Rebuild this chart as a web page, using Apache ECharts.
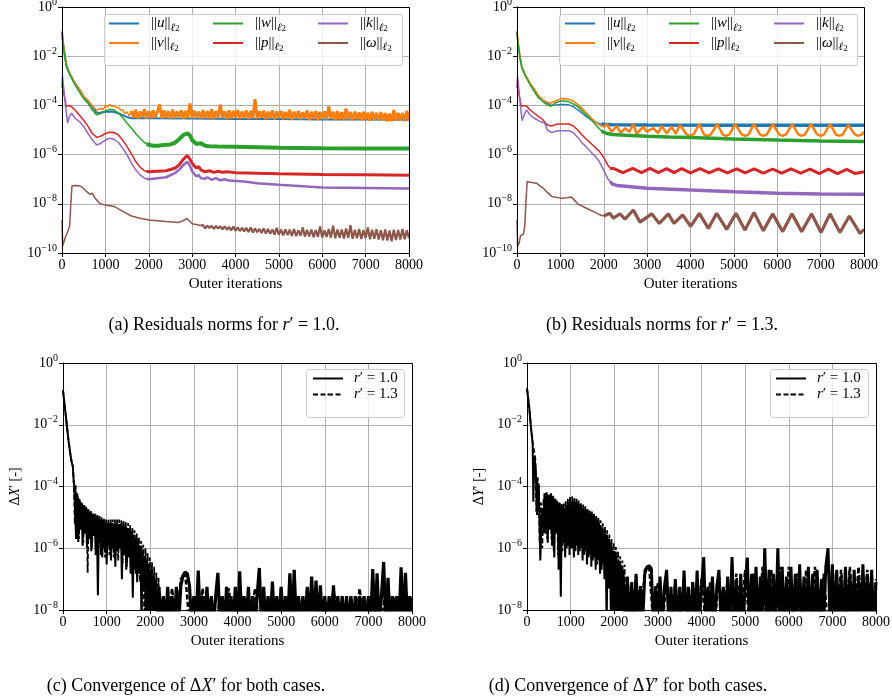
<!DOCTYPE html>
<html>
<head>
<meta charset="utf-8">
<script src="https://cdn.jsdelivr.net/npm/echarts@6/dist/echarts.min.js"></script>
<style>html,body{margin:0;padding:0;background:#fff;} #main{width:892px;height:700px;}</style>
</head>
<body>
<div id="main"></div>
<script>
/* ============================= data ============================= */
// (a) residual norms, r' = 1.0   -- [iteration, value]
var aU = [[0,1.0e-1],[20,4.0e-2],[70,9.3e-3],[110,3.7e-3],[150,2.5e-3],[200,1.6e-3],[300,7.8e-4],[400,4.5e-4],[500,2.2e-4],[600,1.5e-4],[700,8.9e-5],[800,5.0e-5],[900,5.2e-5],[1000,5.5e-5],[1100,5.6e-5],[1200,5.4e-5],[1300,4.8e-5],[1400,4.0e-5],[1500,3.4e-5],[1600,3.0e-5],[2000,3.0e-5],[3000,2.9e-5],[4000,2.8e-5],[5000,2.8e-5],[6000,2.7e-5],[7000,2.7e-5],[8000,2.6e-5]];
var aV = [[0,1.0e-1],[20,4.2e-2],[70,9.5e-3],[110,3.8e-3],[150,2.6e-3],[200,1.7e-3],[300,8.0e-4],[400,4.6e-4],[500,2.3e-4],[600,1.6e-4],[700,9.5e-5],[800,6.5e-5],[850,7.0e-5],[900,7.5e-5],[950,6.8e-5],[1000,1.0e-4],[1050,8.5e-5],[1100,1.1e-4],[1150,9.0e-5],[1200,1.0e-4],[1250,8.0e-5],[1300,8.5e-5],[1350,6.5e-5],[1400,6.5e-5],[1450,4.6e-5],[1500,5.5e-5],[1550,3.8e-5],[1600,6.0e-5]];
// ||v|| noise band, one value every 50 iterations from 1600
var aVNoise = [
  6.0e-5,3.2e-5,6.6e-5,3.0e-5,5.6e-5,3.4e-5,7.0e-5,2.9e-5,5.8e-5,3.1e-5,
  6.4e-5,3.3e-5,5.5e-5,1.1e-4,3.0e-5,6.2e-5,3.2e-5,5.9e-5,2.8e-5,6.8e-5,
  3.1e-5,5.7e-5,3.4e-5,6.3e-5,2.9e-5,6.0e-5,3.2e-5,1.2e-4,3.0e-5,6.1e-5,
  3.3e-5,5.6e-5,2.8e-5,6.5e-5,3.1e-5,5.8e-5,3.0e-5,6.9e-5,2.9e-5,6.0e-5,
  3.2e-5,1.1e-4,3.1e-5,5.7e-5,2.8e-5,6.3e-5,3.0e-5,5.9e-5,3.3e-5,6.4e-5,
  2.9e-5,5.6e-5,3.1e-5,6.2e-5,2.8e-5,6.0e-5,3.0e-5,1.8e-4,2.9e-5,5.8e-5,
  3.2e-5,6.1e-5,2.8e-5,5.5e-5,3.0e-5,6.3e-5,2.7e-5,5.7e-5,3.1e-5,6.0e-5,
  2.8e-5,5.4e-5,3.0e-5,6.6e-5,2.7e-5,5.6e-5,2.9e-5,5.9e-5,2.7e-5,5.3e-5,
  3.0e-5,6.2e-5,2.6e-5,5.5e-5,2.9e-5,5.8e-5,2.6e-5,5.4e-5,2.8e-5,5.7e-5,
  2.7e-5,9.0e-5,2.9e-5,5.5e-5,2.6e-5,5.9e-5,2.8e-5,5.3e-5,2.6e-5,7.5e-5,
  2.7e-5,5.4e-5,2.5e-5,5.6e-5,2.8e-5,5.2e-5,2.5e-5,5.5e-5,2.7e-5,5.1e-5,
  2.4e-5,5.4e-5,2.6e-5,5.0e-5,2.4e-5,5.3e-5,2.5e-5,4.8e-5,2.3e-5,4.6e-5,
  2.3e-5,6.5e-5,2.4e-5,5.0e-5,2.5e-5,4.9e-5,2.3e-5,6.0e-5,2.6e-5];
var aW = [[0,1.0e-1],[20,3.5e-2],[70,8.0e-3],[110,3.4e-3],[150,2.3e-3],[200,1.5e-3],[300,7.0e-4],[400,3.5e-4],[500,1.9e-4],[600,1.2e-4],[700,6.5e-5],[800,4.1e-5],[900,4.8e-5],[1000,6.0e-5],[1100,6.9e-5],[1200,6.5e-5],[1300,4.8e-5],[1400,3.2e-5],[1500,1.9e-5],[1600,1.2e-5],[1700,7.2e-6],[1800,4.6e-6],[1900,3.1e-6],[2000,2.5e-6]];
var aWTail = [[1950,2.7e-6],[2000,2.5e-6],[2100,2.3e-6],[2200,2.3e-6],[2300,2.4e-6],[2400,2.5e-6],[2500,2.6e-6],[2600,3.0e-6],[2700,4.2e-6],[2800,6.3e-6],[2900,7.2e-6],[2950,6.0e-6],[3000,3.9e-6],[3100,2.7e-6],[3200,2.9e-6],[3300,2.3e-6],[3400,2.2e-6],[3600,2.15e-6],[4000,2.1e-6],[4500,2.0e-6],[5000,1.9e-6],[5500,1.85e-6],[6000,1.8e-6],[7000,1.75e-6],[8000,1.75e-6]];
var aP = [[0,5e-4],[15,7e-4],[50,2.5e-4],[100,9.3e-5],[140,8.0e-5],[170,1.0e-4],[200,1.1e-4],[230,8.5e-5],[300,6.5e-5],[400,4.1e-5],[500,2.5e-5],[600,1.4e-5],[700,7.2e-6],[800,5.0e-6],[900,5.7e-6],[1000,7.2e-6],[1100,8.1e-6],[1200,7.9e-6],[1300,6.3e-6],[1400,3.9e-6],[1500,2.1e-6],[1600,1.07e-6],[1700,5.2e-7],[1800,3.1e-7],[1900,2.2e-7],[2000,2.0e-7]];
var aPTail = [[1950,2.1e-7],[2000,2.0e-7],[2200,2.1e-7],[2400,2.2e-7],[2600,2.8e-7],[2700,3.8e-7],[2800,6.5e-7],[2890,9.0e-7],[2950,6.5e-7],[3000,4.5e-7],[3100,2.8e-7],[3150,3.3e-7],[3200,2.4e-7],[3300,2.0e-7],[3400,2.2e-7],[3500,1.9e-7],[3600,2.1e-7],[3700,1.9e-7],[3800,2.0e-7],[4000,1.85e-7],[5000,1.65e-7],[6000,1.55e-7],[7000,1.5e-7],[8000,1.45e-7]];
var aK = [[0,6e-4],[12,1.5e-3],[40,5e-4],[80,1.0e-4],[130,1.9e-5],[170,3.5e-5],[220,4.8e-5],[300,3.0e-5],[400,2.2e-5],[500,1.4e-5],[600,7.2e-6],[700,3.9e-6],[800,2.45e-6],[900,2.9e-6],[1000,3.9e-6],[1100,4.6e-6],[1200,4.2e-6],[1300,3.1e-6],[1400,1.8e-6],[1500,9.8e-7],[1600,4.5e-7],[1700,2.4e-7],[1800,1.5e-7],[1900,1.1e-7],[2000,1.0e-7]];
var aKTail = [[1950,1.05e-7],[2000,1.0e-7],[2200,1.1e-7],[2400,1.2e-7],[2600,1.75e-7],[2700,2.4e-7],[2800,3.8e-7],[2890,5.2e-7],[2950,3.5e-7],[3000,2.1e-7],[3100,1.3e-7],[3150,1.5e-7],[3200,1.1e-7],[3300,1.05e-7],[3350,1.2e-7],[3450,9.5e-8],[3550,1.1e-7],[3650,9.0e-8],[3750,1.0e-7],[3850,8.8e-8],[4000,8.5e-8],[4200,8.0e-8],[4500,6.9e-8],[5000,5.9e-8],[6000,4.6e-8],[7000,4.4e-8],[8000,4.2e-8]];
var aO = [[0,2.2e-9],[15,1.9e-10],[45,2.2e-10],[80,4.5e-10],[110,5.9e-10],[150,6.5e-10],[175,1.2e-9],[200,7.9e-9],[230,5.4e-8],[300,5.5e-8],[420,5.3e-8],[490,4.3e-8],[590,2.9e-8],[650,2.4e-8],[700,2.7e-8],[760,1.7e-8],[880,1.0e-8],[1000,8.9e-9],[1200,7.8e-9],[1400,4.9e-9],[1600,3.2e-9],[1800,2.6e-9],[2000,2.2e-9],[2400,1.9e-9],[2700,1.75e-9],[2800,2.1e-9],[2880,2.5e-9],[2950,1.9e-9],[3000,1.55e-9],[3200,1.3e-9]];
// ||omega|| noise band, every 50 iterations from 3250
var aONoise = [
  1.35e-9,1.0e-9,1.3e-9,1.05e-9,1.28e-9,9.5e-10,1.25e-9,1.0e-9,1.22e-9,9.2e-10,
  1.2e-9,8.8e-10,1.15e-9,8.2e-10,1.2e-9,8.0e-10,1.1e-9,7.8e-10,1.05e-9,7.6e-10,
  1.05e-9,7.2e-10,1.1e-9,6.8e-10,1.0e-9,7.0e-10,9.5e-10,6.5e-10,1.0e-9,6.2e-10,
  9.5e-10,6.0e-10,9.0e-10,5.6e-10,1.05e-9,5.5e-10,8.9e-10,5.2e-10,9.2e-10,5.4e-10,
  8.9e-10,5.0e-10,9.5e-10,4.8e-10,8.5e-10,5.0e-10,1.1e-9,4.6e-10,8.7e-10,4.7e-10,
  9.0e-10,4.4e-10,8.6e-10,4.6e-10,1.2e-9,4.3e-10,8.3e-10,4.5e-10,9.5e-10,4.2e-10,
  1.3e-9,4.0e-10,8.9e-10,4.2e-10,9.0e-10,3.9e-10,1.0e-9,4.1e-10,1.35e-9,3.8e-10,
  8.7e-10,4.0e-10,9.5e-10,3.7e-10,8.5e-10,4.1e-10,1.1e-9,3.6e-10,8.9e-10,3.8e-10,
  9.3e-10,3.5e-10,8.5e-10,3.3e-10,9.0e-10,3.2e-10,8.3e-10,3.0e-10,8.9e-10,3.4e-10,
  8.7e-10,3.5e-10,9.5e-10,3.6e-10,8.5e-10,4.0e-10];

// (b) residual norms, r' = 1.3
var bU = [[0,1.0e-1],[20,4.0e-2],[70,9.3e-3],[110,3.7e-3],[150,2.5e-3],[200,1.6e-3],[300,7.8e-4],[400,4.5e-4],[500,2.3e-4],[600,1.6e-4],[700,1.25e-4],[780,1.0e-4],[900,1.05e-4],[1000,1.1e-4],[1100,1.1e-4],[1200,1.05e-4],[1300,8.9e-5],[1400,6.5e-5],[1500,4.8e-5],[1600,3.5e-5],[1700,2.7e-5],[1800,2.1e-5],[1900,1.8e-5],[2000,1.7e-5]];
var bUTail = [[1950,1.75e-5],[2000,1.7e-5],[2200,1.65e-5],[3000,1.6e-5],[5000,1.55e-5],[8000,1.55e-5]];
var bV = [[0,1.0e-1],[20,4.2e-2],[70,9.5e-3],[110,3.8e-3],[150,2.6e-3],[200,1.7e-3],[300,8.0e-4],[400,4.6e-4],[500,2.4e-4],[600,1.65e-4],[700,1.35e-4],[780,1.25e-4],[900,1.55e-4],[1000,1.85e-4],[1100,1.9e-4],[1200,1.75e-4],[1300,1.5e-4],[1400,1.1e-4],[1500,7.6e-5],[1600,5.0e-5],[1700,3.2e-5],[1800,2.2e-5],[1900,1.6e-5],[2000,1.3e-5]];
var bVTail = [[2000,1.3e-5],[2067,1.75e-5],[2182,8.5e-6],[2298,1.45e-5],[2390,7.8e-6],[2490,1.17e-5],[2590,8.5e-6],[2682,1.75e-5],[2759,6.9e-6],[2913,1.37e-5],[2989,8.5e-6],[3143,1.2e-5],[3250,7.5e-6],[3335,1.45e-5],[3451,7.3e-6],[3566,1.37e-5],[3660,7.0e-6],[3758,1.6e-5],[3910,6.6e-6],[3988,5.8e-6],[4070,6.6e-6],[4204,1.75e-5],[4310,6.6e-6],[4388,5.8e-6],[4470,6.6e-6],[4619,1.75e-5],[4740,6.6e-6],[4818,5.8e-6],[4900,6.6e-6],[5026,1.75e-5],[5180,6.6e-6],[5257,5.8e-6],[5340,6.6e-6],[5464,1.75e-5],[5600,6.6e-6],[5679,5.8e-6],[5760,6.6e-6],[5894,1.75e-5],[6045,6.6e-6],[6125,5.8e-6],[6205,6.6e-6],[6340,1.75e-5],[6485,6.6e-6],[6563,5.8e-6],[6640,6.6e-6],[6778,1.75e-5],[6920,6.6e-6],[7001,5.8e-6],[7080,6.6e-6],[7216,1.75e-5],[7350,6.6e-6],[7431,5.8e-6],[7510,6.6e-6],[7639,1.6e-5],[7790,6.6e-6],[7869,5.8e-6],[7950,6.6e-6],[8000,8.5e-6]];
var bW = [[0,1.0e-1],[20,3.5e-2],[70,8.0e-3],[110,3.4e-3],[150,2.3e-3],[200,1.5e-3],[300,7.0e-4],[400,3.6e-4],[500,2.0e-4],[600,1.4e-4],[700,1.05e-4],[780,9.3e-5],[900,1.3e-4],[1000,1.5e-4],[1100,1.5e-4],[1200,1.4e-4],[1300,1.15e-4],[1400,8.9e-5],[1500,6.0e-5],[1600,4.1e-5],[1700,2.7e-5],[1800,1.75e-5],[1900,1.1e-5],[2000,8.0e-6]];
var bWTail = [[1950,9.2e-6],[2000,8.0e-6],[2100,7.0e-6],[2200,6.6e-6],[2500,6.1e-6],[3000,5.6e-6],[3500,5.2e-6],[4000,4.9e-6],[5000,4.3e-6],[6000,3.9e-6],[7000,3.6e-6],[8000,3.4e-6]];
var bP = [[0,5e-4],[15,7e-4],[50,2.5e-4],[100,9.3e-5],[140,8.5e-5],[170,1.0e-4],[200,1.2e-4],[230,9e-5],[300,6.5e-5],[400,4.8e-5],[500,3.5e-5],[580,2.8e-5],[620,2.9e-5],[700,1.6e-5],[800,1.45e-5],[900,1.7e-5],[1000,1.75e-5],[1200,1.75e-5],[1300,1.45e-5],[1400,1.0e-5],[1500,6.3e-6],[1600,4.2e-6],[1700,2.9e-6],[1800,2.0e-6],[1900,1.35e-6],[2000,7.5e-7],[2100,3.6e-7],[2180,2.4e-7]];
var bPTail = [[2150,2.8e-7],[2221,2.75e-7],[2440,1.85e-7],[2667,2.75e-7],[2870,1.85e-7],[3066,2.75e-7],[3260,1.85e-7],[3450,2.7e-7],[3620,1.85e-7],[3796,2.7e-7],[4000,1.8e-7],[4219,2.7e-7],[4430,1.8e-7],[4642,2.65e-7],[4850,1.8e-7],[5064,2.65e-7],[5260,1.8e-7],[5464,2.6e-7],[5680,1.75e-7],[5894,2.6e-7],[6100,1.75e-7],[6317,2.6e-7],[6540,1.75e-7],[6755,2.55e-7],[6970,1.7e-7],[7178,2.55e-7],[7390,1.7e-7],[7600,2.5e-7],[7800,1.7e-7],[8000,2.0e-7]];
var bK = [[0,6e-4],[12,1.5e-3],[40,5e-4],[80,9e-5],[120,2.4e-5],[160,4e-5],[220,6.5e-5],[300,4.1e-5],[400,3.0e-5],[500,2.4e-5],[580,2.0e-5],[630,2.1e-5],[700,1.0e-5],[800,7.8e-6],[900,9.1e-6],[1000,9.3e-6],[1200,9.3e-6],[1300,7.8e-6],[1400,5.0e-6],[1500,3.0e-6],[1600,2.0e-6],[1700,1.3e-6],[1800,8.5e-7],[1900,5.2e-7],[2000,2.3e-7],[2100,1.0e-7],[2200,6.3e-8],[2300,5.6e-8]];
var bKTail = [[2150,8.0e-8],[2200,6.3e-8],[2300,5.6e-8],[2500,5.2e-8],[3000,4.3e-8],[4000,3.6e-8],[5000,3.1e-8],[6000,2.7e-8],[7000,2.5e-8],[8000,2.45e-8]];
var bO = [[0,2.2e-9],[15,1.9e-10],[50,2.5e-10],[80,5e-10],[110,5.5e-10],[150,6e-10],[180,1.3e-9],[205,1.2e-8],[235,8.1e-8],[300,7.5e-8],[450,6.9e-8],[550,5.0e-8],[600,4.4e-8],[640,4.6e-8],[700,2.9e-8],[800,2.0e-8],[1000,1.7e-8],[1150,1.75e-8],[1250,1.9e-8],[1300,1.55e-8],[1400,1.0e-8],[1600,6.6e-9],[1800,4.5e-9],[1900,3.6e-9],[2000,3.2e-9]];
var bOTail = [[2000,3.2e-9],[2144,4.1e-9],[2221,2.6e-9],[2375,3.9e-9],[2490,2.4e-9],[2682,5.6e-9],[2836,1.8e-9],[3105,3.9e-9],[3281,1.6e-9],[3489,3.9e-9],[3620,1.6e-9],[3819,3.5e-9],[4004,1.2e-9],[4204,4.1e-9],[4411,1.0e-9],[4603,4.1e-9],[4834,9.1e-10],[5049,4.1e-9],[5256,8.5e-10],[5464,4.4e-9],[5679,8.1e-10],[5894,3.9e-9],[6125,7.4e-10],[6340,3.9e-9],[6563,7.4e-10],[6793,3.9e-9],[7009,6.8e-10],[7216,3.9e-9],[7447,6.8e-10],[7662,3.2e-9],[7908,6.3e-10],[8000,9.1e-10]];

// (c) Delta X'   solid: r' = 1.0, dashed: r' = 1.3
var cSolidHead = [[0,1.3e-1],[40,4e-2],[90,9e-3],[130,2.8e-3],[170,1.1e-3],[200,6e-4],[225,4.5e-4],[245,1.5e-4],[260,9e-5]];
var cSolidNoise = [ // every 25 from 275
  8e-5,2e-6,6e-5,1.6e-6,4e-5,4e-6,3e-5,1.2e-6,
  2.5e-5,3e-6,2.2e-5,1e-6,1.8e-5,2e-6,1.5e-5,8e-7,
  1.3e-5,2.5e-6,1.2e-5,6e-7,1.1e-5,3e-8,1e-5,1.5e-6,
  9e-6,5e-7,8e-6,1e-6,7e-6,3e-7,6.5e-6,1.2e-6,
  6.5e-6,4e-7,6.5e-6,1e-6,6.3e-6,2.5e-7,6.3e-6,8e-7,
  6e-6,1e-6,5.8e-6,1e-7,5.5e-6,6e-7,5e-6,2e-7,
  4.5e-6,5e-7,4e-6,1.5e-7,3.5e-6,2.5e-8,2.8e-6,2e-7,
  2.2e-6,8e-8,1.6e-6,1.5e-7,1.2e-6,3e-9,8e-7,5e-8,
  5.5e-7,3e-9,4e-7,3e-9,3e-7,3e-9,2e-7,3e-9,
  1.3e-7,3e-9,1e-7,3e-9];
var cSolidFloor = [ // every 50 from 2200
  5.6e-8,3e-9,2.8e-8,3e-9,5.6e-8,3e-9,2.8e-8,3e-9,5.6e-8,3e-9,
  6e-8,1.3e-7,1.7e-7,1.5e-7,6e-8,3e-9,2.8e-8,3e-9,1.9e-7,3e-9,
  2.8e-8,3e-9,5.6e-8,3e-9,2.8e-8,3e-9,2.8e-8,1.6e-7,3e-9,2.8e-8,
  3e-9,5.6e-8,3e-9,2.8e-8,3e-9,5.6e-8,3e-9,1.8e-7,3e-9,2.8e-8,
  3e-9,5.6e-8,3e-9,2.8e-8,3e-9,2.8e-8,2.3e-7,3e-9,5.6e-8,3e-9,
  2.8e-8,3e-9,8.3e-8,3e-9,2.8e-8,3e-9,5.6e-8,3e-9,2.8e-8,3e-9,
  1.55e-7,3e-9,2e-7,3e-9,2.8e-8,3e-9,2.8e-8,3e-9,5.6e-8,3e-9,
  1.2e-7,3e-9,9e-8,3e-9,6.3e-8,3e-9,2.8e-8,3e-9,2.8e-8,3e-9,
  6.3e-8,3e-9,2.8e-8,3e-9,2.8e-8,3e-9,2.8e-8,3e-9,2.8e-8,3e-9,
  2.8e-8,3e-9,2.8e-8,3e-9,2.8e-8,3e-9,2.8e-8,3e-9,2.1e-7,3e-9,
  1.55e-7,3e-9,2.8e-8,3.6e-7,3e-9,1.1e-7,3e-9,2.8e-8,3e-9,2.8e-8,
  3e-9,2.4e-7,3e-9,1.6e-7,3e-9,2.8e-8,3e-9];
var cDashHead = [[0,1.3e-1],[40,4e-2],[90,9e-3],[130,2.8e-3],[170,1.1e-3],[200,6e-4],[225,4.5e-4],[250,1.2e-4],[270,6e-6]];
var cDashNoise = [ // every 25 from 290
  1.1e-4,3e-6,5e-5,2e-6,3.5e-5,5e-6,2.8e-5,1.5e-6,
  2.5e-5,3e-6,2e-5,1.6e-7,1.8e-5,2e-6,1.6e-5,1e-6,
  1.4e-5,3e-6,1.3e-5,8e-7,1.2e-5,2e-6,1.1e-5,6e-7,
  1e-5,1.5e-6,9e-6,5e-7,8.5e-6,1.5e-6,8.5e-6,6e-7,
  8.5e-6,1.5e-6,8.5e-6,5e-7,8.5e-6,1.2e-6,8.5e-6,4e-7,
  8.5e-6,1e-6,8e-6,3e-7,7.5e-6,8e-7,7e-6,2.5e-7,
  6.5e-6,6e-7,5.5e-6,2e-7,4.5e-6,4e-7,3.8e-6,1.5e-7,
  3e-6,2.5e-7,2.3e-6,8e-8,1.7e-6,1.2e-7,1.3e-6,3e-9,
  1e-6,3e-8,7e-7,3e-9,5e-7,3e-9,3.5e-7,3e-9,
  2.5e-7,3e-9,1.6e-7,3e-9,1.1e-7,3e-9];
var cDashFloor = [ // every 100 from 2300
  2.5e-8,3e-9,5e-8,3e-9,1e-7,1.6e-7,3e-9,2.5e-8,3e-9,5e-8,
  3e-9,2.5e-8,3e-9,2.5e-8,3e-9,5e-8,3e-9,2.5e-8,3e-9,2.5e-8,
  3e-9,5e-8,3e-9,2.5e-8,3e-9,2.5e-8,3e-9,5e-8,3e-9,2.5e-8,
  3e-9,2.5e-8,3e-9,5e-8,3e-9,2.5e-8,3e-9,2.5e-8,3e-9,5e-8,
  3e-9,2.5e-8,3e-9,2.5e-8,3e-9,5e-8,3e-9,2.5e-8,3e-9,2.5e-8,
  3e-9,5e-8,3e-9,2.5e-8,3e-9,2.5e-8,3e-9,2.5e-8];

// (d) Delta Y'
var dSolidHead = [[0,1.5e-1],[50,3.8e-2],[90,8.5e-3],[130,2.5e-3],[145,3.2e-5],[168,9e-4],[200,4e-4],[230,1.2e-5],[252,1.26e-4],[270,1e-4],[305,4e-7],[336,1.3e-5],[360,2e-5],[380,3e-6]];
var dSolidNoise = [ // every 25 from 400
  6e-5,3e-6,6.5e-5,1.5e-6,5.5e-5,4e-6,6e-5,1.2e-6,
  5e-5,5e-7,4e-5,3e-6,3.2e-5,2e-7,3e-5,2.7e-8,
  2.5e-5,1.5e-6,2e-5,5e-7,2.5e-5,1.2e-6,3e-5,6e-7,
  3.2e-5,1e-6,3.2e-5,5e-7,3e-5,1.2e-6,2.8e-5,6e-7,
  2.5e-5,1e-6,2.2e-5,4e-7,2e-5,8e-7,1.8e-5,3e-7,
  1.6e-5,6e-7,1.4e-5,2.5e-7,1.2e-5,5e-7,1e-5,2e-7,
  8e-6,4e-7,6.5e-6,1.5e-7,5e-6,3e-7,4e-6,1e-7,
  3e-6,3e-9,2e-6,5e-8,1.5e-6,3e-9,1.1e-6,3e-9,
  8e-7,3e-9,5.5e-7,3e-9,4e-7,3e-9,2.8e-7,3e-9,
  2e-7];
var dSolidFloor = [ // every 50 from 2250
  3e-9,1.2e-7,3e-9,8e-8,3e-9,1.5e-7,3e-9,6e-8,3e-9,1.5e-7,
  2.5e-7,2.7e-7,2.2e-7,3e-9,6e-8,3e-9,1.2e-7,3e-9,5.6e-8,2e-7,
  3e-9,5.6e-8,3e-9,1e-7,3e-9,5.6e-8,3e-9,1.9e-7,3e-9,5.6e-8,
  3e-9,8e-8,3e-9,1.9e-7,3e-9,5.6e-8,5.2e-7,3e-9,5.6e-8,3e-9,
  1.2e-7,3e-9,5.6e-8,2e-7,3e-9,5.6e-8,3e-9,1.2e-7,3e-9,5.2e-7,
  3e-9,8e-8,3e-9,1.5e-7,3e-9,5.6e-8,5e-7,3e-9,1.5e-7,3e-9,
  2.5e-7,3e-9,1.2e-7,3e-9,1e-6,3e-9,2e-7,3e-9,1.5e-7,3e-9,
  1e-6,3e-9,2.5e-7,3e-9,1.2e-7,3e-9,2.5e-7,3e-9,1.5e-7,3e-9,
  3e-7,3e-9,1.2e-7,3e-9,2.5e-7,3e-9,1.5e-7,3e-9,2e-7,3e-9,
  1e-7,3e-9,2.5e-7,1e-6,3e-9,3e-7,3e-9,2e-7,3e-9,1.2e-7,
  3e-9,2.5e-7,3e-9,1.5e-7,3e-9,2e-7,3e-9,1e-7,3e-9,3e-7,
  3e-9,1.5e-7,3e-9,2e-7,3e-9,8e-8];
var dDashHead = [[0,1.5e-1],[50,3.8e-2],[90,8.5e-3],[130,2.5e-3],[160,1.5e-3],[190,8e-4],[215,1.5e-5],[240,2e-4],[270,1e-4],[290,1.5e-6],[320,3e-5],[350,1e-6],[380,4e-5]];
var dDashNoise = [ // every 25 from 412
  5e-6,6e-5,2e-6,5e-5,6e-6,5e-5,2e-6,4.5e-5,
  8e-7,4e-5,3e-6,3.5e-5,6e-7,3e-5,2e-6,2.8e-5,
  8e-7,3e-5,2e-6,3.5e-5,1e-6,4e-5,2e-6,4.8e-5,
  1e-6,4.8e-5,2e-6,4.5e-5,8e-7,4e-5,2e-6,3.5e-5,
  8e-7,3e-5,1.5e-6,2.6e-5,6e-7,2.3e-5,1.2e-6,2e-5,
  5e-7,1.8e-5,1e-6,1.6e-5,4e-7,1.4e-5,8e-7,1.2e-5,
  3e-7,1e-5,6e-7,8e-6,2e-7,6.5e-6,4e-7,5e-6,
  1e-7,3.8e-6,2e-7,2.8e-6,5e-8,2e-6,3e-9,1.5e-6,
  3e-9,1.1e-6,3e-9,8e-7,3e-9,5.5e-7,3e-9,4e-7,
  3e-9,3e-7,3e-9];
var dDashFloor = [ // every 100 from 2300
  1e-7,3e-9,1.2e-7,3e-9,2e-7,2.5e-7,3e-9,8e-8,3e-9,1e-7,
  3e-9,8e-8,3e-9,1.2e-7,3e-9,8e-8,3e-9,1e-7,3e-9,8e-8,
  3e-9,1.2e-7,3e-9,1e-7,3e-9,1.5e-7,3e-9,2e-7,3e-9,1.5e-7,
  3e-9,2.5e-7,3e-9,2e-7,3e-9,2.5e-7,3e-9,2.5e-7,3e-9,1.5e-7,
  3e-9,2e-7,3e-9,2.5e-7,3e-9,1.5e-7,3e-9,2.5e-7,3e-9,2e-7,
  3e-9,2.5e-7,3e-9,2.5e-7,3e-9,2e-7,3e-9,1e-7];

var xTicks = [0, 1000, 2000, 3000, 4000, 5000, 6000, 7000, 8000]; // labelled on every x axis

/* ============================= helpers ============================= */
var SERIF = '"Liberation Serif", "DejaVu Serif", serif';
var C = { u:'#1f77b4', v:'#ff7f0e', w:'#2ca02c', p:'#d62728', k:'#9467bd', o:'#8c564b' };

// values sampled at a fixed step -> [iteration, value]
function seg(start, step, vals) {
	var out = [];
	for (var i = 0; i < vals.length; i++) out.push([start + i * step, vals[i]]);
	return out;
}

function line(gi, name, color, data, width, dash) {
	return {
		type: 'line', name: name, xAxisIndex: gi, yAxisIndex: gi, data: data,
		symbol: 'none', showSymbol: false, animation: false, clip: true,
		lineStyle: { color: color, width: width, type: dash || 'solid' },
		itemStyle: { color: color }
	};
}

var expRich = {
	b: { fontFamily: SERIF, fontSize: 14, lineHeight: 20, color: '#000', verticalAlign: 'middle' },
	e: { fontFamily: SERIF, fontSize: 10, lineHeight: 10, color: '#000', verticalAlign: 'top' }
};
function expLabel(v) {
	var n = Math.round(Math.log(v) / Math.LN10);
	return '{b|10}{e|' + (n < 0 ? '\u2212' + (-n) : n) + '}';
}

function xAx(gi) {
	return {
		type: 'value', gridIndex: gi, min: xTicks[0], max: xTicks[xTicks.length - 1], interval: 1000,
		name: 'Outer iterations', nameLocation: 'middle', nameGap: 24,
		nameTextStyle: { fontFamily: SERIF, fontSize: 15, color: '#000' },
		axisLine: { show: true, lineStyle: { color: '#000', width: 1 } },
		axisTick: { show: true, length: 4, lineStyle: { color: '#000' } },
		axisLabel: { fontFamily: SERIF, fontSize: 14, color: '#000', margin: 5, showMinLabel: true, showMaxLabel: true, hideOverlap: false,
			formatter: function (v) { return String(v); } },
		splitLine: { show: true, lineStyle: { color: '#b0b0b0', width: 1 } }
	};
}
function yAx(gi, min, name) {
	var ax = {
		type: 'log', logBase: 10, gridIndex: gi, min: min, max: 1, interval: 2,
		axisLine: { show: true, lineStyle: { color: '#000', width: 1 } },
		axisTick: { show: true, length: 4, lineStyle: { color: '#000' } },
		axisLabel: { margin: 5, formatter: expLabel, rich: expRich, showMinLabel: true, showMaxLabel: true, hideOverlap: false },
		splitLine: { show: true, lineStyle: { color: '#b0b0b0', width: 1 } },
		minorTick: { show: false }, minorSplitLine: { show: false }
	};
	if (name) {
		ax.name = name; ax.nameLocation = 'middle'; ax.nameGap = 41; ax.nameRotate = 90;
		ax.nameTextStyle = { rich: {
			n: { fontFamily: SERIF, fontSize: 14, color: '#000' },
			i: { fontFamily: SERIF, fontSize: 14, color: '#000', fontStyle: 'italic' } } };
	}
	return ax;
}

var legRich = {
	b: { fontFamily: SERIF, fontSize: 15, lineHeight: 20, color: '#000', verticalAlign: 'middle' },
	i: { fontFamily: SERIF, fontSize: 15, lineHeight: 20, color: '#000', fontStyle: 'italic', verticalAlign: 'middle' },
	s: { fontFamily: SERIF, fontSize: 11, lineHeight: 10, color: '#000', fontStyle: 'italic', verticalAlign: 'bottom' },
	t: { fontFamily: SERIF, fontSize: 9, lineHeight: 8, color: '#000', verticalAlign: 'bottom' }
};
var normSym = { u: 'u', v: 'v', w: 'w', p: 'p', k: 'k', o: '\u03c9' };
function legFmt(n) {
	if (n == 'r10') return '{i|r}{b|\u2032 = 1.0}';
	if (n == 'r13') return '{i|r}{b|\u2032 = 1.3}';
	return '{b|||}{i|' + normSym[n] + '}{b|||}{s|\u2113}{t|2}';
}
function legend(left, top, names, gap, pad) {
	return {
		orient: 'vertical', left: left, top: top, data: names, padding: 0,
		itemWidth: 30, itemHeight: 2, itemGap: gap, selectedMode: false, z: 10,
		textStyle: { padding: [0, 0, 0, pad], rich: legRich },
		formatter: legFmt
	};
}

function box(x, y, w, h) {
	return { type: 'rect', z: 8, silent: true, shape: { x: x + 0.5, y: y + 0.5, width: w, height: h },
		style: { fill: 'none', stroke: '#000', lineWidth: 1 } };
}
function legBox(x, y, w, h) {
	return { type: 'rect', z: 9, silent: true, shape: { x: x + 0.5, y: y + 0.5, width: w, height: h, r: 3 },
		style: { fill: 'rgba(255,255,255,0.8)', stroke: '#cccccc', lineWidth: 1 } };
}
var capRich = {
	n: { fontFamily: SERIF, fontSize: 18, color: '#000' },
	i: { fontFamily: SERIF, fontSize: 18, color: '#000', fontStyle: 'italic' }
};
function caption(x, y, text) {
	return { type: 'text', x: x, y: y, z: 10, silent: true,
		style: { text: text, rich: capRich, align: 'center', verticalAlign: 'middle', fill: '#000' } };
}

/* ============================= series ============================= */
var series = [
	// (a)
	line(0, 'u', C.u, aU, 2),
	line(0, 'v', C.v, aV, 1.5), line(0, 'v', C.v, seg(1600, 50, aVNoise), 3),
	line(0, 'w', C.w, aW, 1.5), line(0, 'w', C.w, aWTail, 4),
	line(0, 'p', C.p, aP, 1.5), line(0, 'p', C.p, aPTail, 3),
	line(0, 'k', C.k, aK, 1.5), line(0, 'k', C.k, aKTail, 2.5),
	line(0, 'o', C.o, aO, 1.5), line(0, 'o', C.o, [aO[aO.length - 1]].concat(seg(3250, 50, aONoise)), 2.2),
	// (b)
	line(1, 'u', C.u, bU, 1.5), line(1, 'u', C.u, bUTail, 3.5),
	line(1, 'v', C.v, bV, 1.5), line(1, 'v', C.v, bVTail, 2.5),
	line(1, 'w', C.w, bW, 1.5), line(1, 'w', C.w, bWTail, 3.5),
	line(1, 'p', C.p, bP, 1.5), line(1, 'p', C.p, bPTail, 3),
	line(1, 'k', C.k, bK, 1.5), line(1, 'k', C.k, bKTail, 3.5),
	line(1, 'o', C.o, bO, 1.5), line(1, 'o', C.o, bOTail, 3.2),
	// (c)
	line(2, 'r10', '#000', cSolidHead.concat(seg(275, 25, cSolidNoise)), 2),
	line(2, 'r10', '#000', seg(2150, 50, [3e-9].concat(cSolidFloor)), 3.2),
	line(2, 'r13', '#000', cDashHead.concat(seg(290, 25, cDashNoise)), 1.8, [5, 2.5]),
	line(2, 'r13', '#000', [[2215, 3e-9]].concat(seg(2300, 100, cDashFloor)), 2.5, [5, 2.5]),
	// (d)
	line(3, 'r10', '#000', dSolidHead.concat(seg(400, 25, dSolidNoise)), 2),
	line(3, 'r10', '#000', [[2200, 2e-7]].concat(seg(2250, 50, dSolidFloor)), 3),
	line(3, 'r13', '#000', dDashHead.concat(seg(412, 25, dDashNoise)), 1.8, [5, 2.5]),
	line(3, 'r13', '#000', [[2262, 3e-9]].concat(seg(2300, 100, dDashFloor)), 2.5, [5, 2.5])
];

var option = {
	backgroundColor: '#fff',
	animation: false,
	grid: [
		{ left: 62, top: 7, width: 347, height: 246, outerBoundsMode: 'none' },
		{ left: 517, top: 7, width: 347, height: 246, outerBoundsMode: 'none' },
		{ left: 63, top: 363, width: 349, height: 247, outerBoundsMode: 'none' },
		{ left: 527, top: 363, width: 349, height: 247, outerBoundsMode: 'none' }
	],
	xAxis: [xAx(0), xAx(1), xAx(2), xAx(3)],
	yAxis: [
		yAx(0, 1e-10), yAx(1, 1e-10),
		yAx(2, 1e-8, '{n|\u0394}{i|X}{n|\u2032 [-]}'),
		yAx(3, 1e-8, '{n|\u0394}{i|Y}{n|\u2032 [-]}')
	],
	legend: [
		legend(108, 16, ['u', 'v'], 2, 7), legend(212, 16, ['w', 'p'], 2, 7), legend(317, 16, ['k', 'o'], 2, 7),
		legend(564, 16, ['u', 'v'], 2, 7), legend(668, 16, ['w', 'p'], 2, 7), legend(773, 16, ['k', 'o'], 2, 7),
		legend(312, 371, ['r10', 'r13'], 1, 6), legend(775, 371, ['r10', 'r13'], 1, 6)
	],
	graphic: [
		box(62, 7, 347, 246), box(517, 7, 347, 246), box(63, 363, 349, 247), box(527, 363, 349, 247),
		legBox(104, 14, 298, 51), legBox(559, 14, 298, 51), legBox(306, 369, 98, 48), legBox(770, 369, 98, 48),
		caption(224, 325, '{n|(a) Residuals norms for }{i|r}{n|\u2032 = 1.0.}'),
		caption(662, 325, '{n|(b) Residuals norms for }{i|r}{n|\u2032 = 1.3.}'),
		caption(186, 686, '{n|(c) Convergence of \u0394}{i|X}{n|\u2032 for both cases.}'),
		caption(628, 686, '{n|(d) Convergence of \u0394}{i|Y}{n|\u2032 for both cases.}')
	],
	series: series
};

var chart = echarts.init(document.getElementById('main'), null, { renderer: 'canvas' });
chart.setOption(option);
</script>
</body>
</html>
